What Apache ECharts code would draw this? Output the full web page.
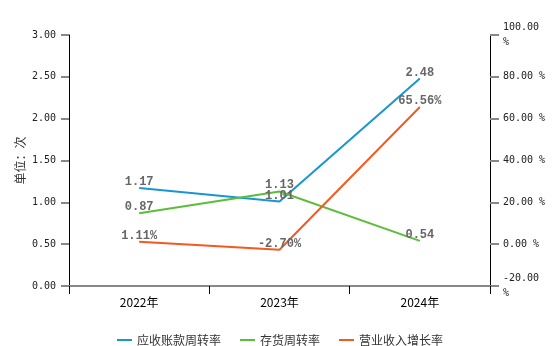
<!DOCTYPE html>
<html><head><meta charset="utf-8">
<script src="https://cdn.jsdelivr.net/npm/echarts@6/dist/echarts.min.js"></script>
<style>html,body{margin:0;padding:0;background:#fff}#c{width:560px;height:346px}</style>
</head><body><div id="c"></div>
<script>
const categories = ['2022年', '2023年', '2024年'];
const receivableTurnover = [1.17, 1.01, 2.48];
const inventoryTurnover = [0.87, 1.13, 0.54];
const revenueGrowth = [1.11, -2.70, 65.56];
const seriesNames = ['应收账款周转率', '存货周转率', '营业收入增长率'];
const leftAxisName = '单位：次';

const chart = echarts.init(document.getElementById('c'), null, {renderer: 'canvas'});
const labelStyle = {
  show: true, position: 'top', distance: 0,
  fontFamily: 'Liberation Mono', fontWeight: 'bold', fontSize: 12, color: '#666'
};
const tickFont = {fontFamily: 'DejaVu Sans Mono', fontSize: 10, color: '#222', padding: [5, 0, 0, 0]};
chart.setOption({
  animation: false,
  color: ['#1896d3', '#5cbd3a', '#f25a1f'],
  grid: {left: 69, right: 70, top: 35, bottom: 60},
  legend: {
    top: 328, left: 'center', itemWidth: 15, itemHeight: 14, itemGap: 19,
    icon: 'path://M0,6 L15,6 L15,8 L0,8 Z',
    textStyle: {fontSize: 12, lineHeight: 14, color: '#333', fontFamily: 'Noto Sans CJK SC'},
    data: seriesNames
  },
  xAxis: {
    type: 'category', data: categories, boundaryGap: true,
    axisLine: {lineStyle: {color: '#888', width: 2}},
    axisTick: {show: true, length: 8, lineStyle: {color: '#000', width: 1}},
    axisLabel: {fontSize: 12, color: '#000', margin: 10, fontFamily: 'Noto Sans CJK SC'}
  },
  yAxis: [{
    type: 'value', min: 0, max: 3, interval: 0.5,
    name: leftAxisName, nameLocation: 'middle', nameGap: 43, nameRotate: 90,
    nameMoveOverlap: false,
    nameTextStyle: {fontSize: 12, color: '#333', fontFamily: 'Noto Sans CJK SC'},
    axisLine: {show: true, lineStyle: {color: '#000', width: 1}},
    axisTick: {show: true, length: 8, lineStyle: {color: '#888', width: 2}},
    splitLine: {show: false},
    axisLabel: Object.assign({margin: 13, formatter: v => v.toFixed(2)}, tickFont)
  }, {
    type: 'value', min: -20, max: 100, interval: 20, position: 'right',
    axisLine: {show: true, lineStyle: {color: '#000', width: 1}},
    axisTick: {show: true, length: 9, lineStyle: {color: '#888', width: 2}},
    splitLine: {show: false},
    axisLabel: Object.assign({margin: 13, formatter: v => {
      const s = v.toFixed(2);
      return s.length > 5 ? s + '\n%' : s + ' %';
    }, lineHeight: 15}, tickFont)
  }],
  series: [{
    name: seriesNames[0], type: 'line', data: receivableTurnover, yAxisIndex: 0,
    symbol: 'circle', symbolSize: 0, showSymbol: true, lineStyle: {width: 2},
    label: Object.assign({formatter: p => p.value.toFixed(2)}, labelStyle)
  }, {
    name: seriesNames[1], type: 'line', data: inventoryTurnover, yAxisIndex: 0,
    symbol: 'circle', symbolSize: 0, showSymbol: true, lineStyle: {width: 2},
    label: Object.assign({formatter: p => p.value.toFixed(2)}, labelStyle)
  }, {
    name: seriesNames[2], type: 'line', data: revenueGrowth, yAxisIndex: 1,
    symbol: 'circle', symbolSize: 0, showSymbol: true, lineStyle: {width: 2},
    label: Object.assign({formatter: p => p.value.toFixed(2) + '%'}, labelStyle)
  }]
});
</script></body></html>
